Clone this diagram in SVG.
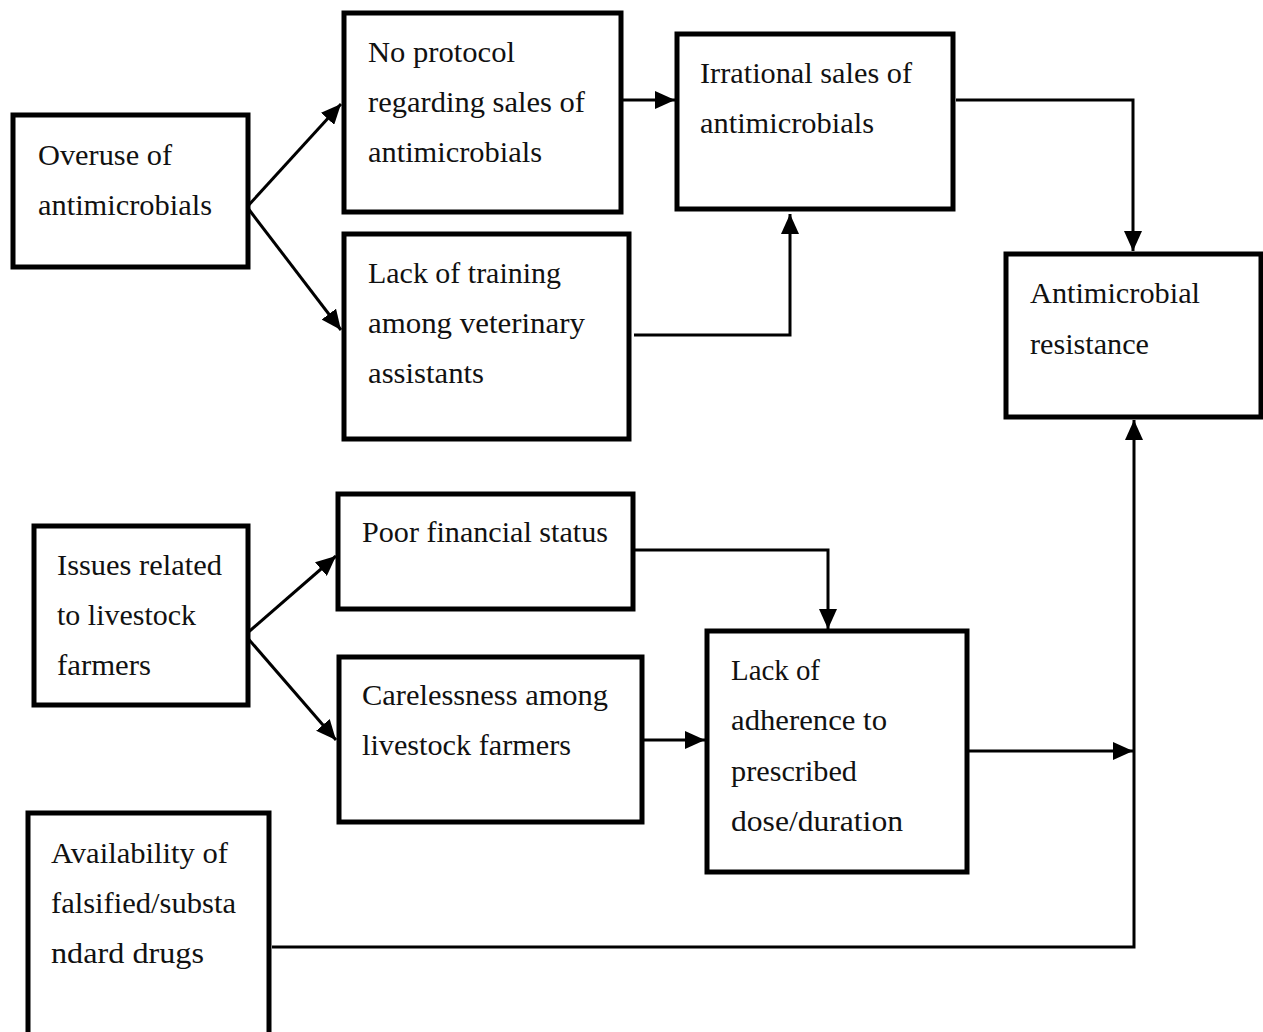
<svg xmlns="http://www.w3.org/2000/svg" width="1263" height="1032" viewBox="0 0 1263 1032">
<style>
.box{fill:#fff;stroke:#000;stroke-width:5}
.t{font-family:"Liberation Serif","Times New Roman",serif;font-size:29px;fill:#111}
.c{fill:none;stroke:#000;stroke-width:3}
</style>
<defs>
<marker id="ah" markerUnits="userSpaceOnUse" markerWidth="22" markerHeight="18" refX="20" refY="9" orient="auto">
<path d="M0,0 L20,9 L0,18 Z" fill="#000"/>
</marker>
</defs>
<rect width="1263" height="1032" fill="#fff"/>
<g id="connectors">
<path class="c" d="M247,207 L341,104" marker-end="url(#ah)"/>
<path class="c" d="M247,207 L341,330" marker-end="url(#ah)"/>
<path class="c" d="M622,100 L675,100" marker-end="url(#ah)"/>
<path class="c" d="M634,335 L790,335 L790,214" marker-end="url(#ah)"/>
<path class="c" d="M956,100 L1133,100 L1133,251" marker-end="url(#ah)"/>
<path class="c" d="M245,635 L336,556" marker-end="url(#ah)"/>
<path class="c" d="M245,635 L336,740" marker-end="url(#ah)"/>
<path class="c" d="M634,550 L828,550 L828,629" marker-end="url(#ah)"/>
<path class="c" d="M643,740 L705,740" marker-end="url(#ah)"/>
<path class="c" d="M968,751 L1133,751" marker-end="url(#ah)"/>
<path class="c" d="M272,947 L1134,947 L1134,420" marker-end="url(#ah)"/>
</g>
<g id="overuse">
<rect class="box" x="13" y="115" width="235" height="152"/>
<text class="t" x="38" y="165" textLength="134" lengthAdjust="spacingAndGlyphs">Overuse of</text>
<text class="t" x="38" y="215" textLength="174" lengthAdjust="spacingAndGlyphs">antimicrobials</text>
</g>
<g id="noprotocol">
<rect class="box" x="344" y="13" width="277" height="199"/>
<text class="t" x="368" y="62" textLength="147" lengthAdjust="spacingAndGlyphs">No protocol</text>
<text class="t" x="368" y="112" textLength="217" lengthAdjust="spacingAndGlyphs">regarding sales of</text>
<text class="t" x="368" y="162" textLength="174" lengthAdjust="spacingAndGlyphs">antimicrobials</text>
</g>
<g id="irrational">
<rect class="box" x="677" y="34" width="276" height="175"/>
<text class="t" x="700" y="83" textLength="212" lengthAdjust="spacingAndGlyphs">Irrational sales of</text>
<text class="t" x="700" y="133" textLength="174" lengthAdjust="spacingAndGlyphs">antimicrobials</text>
</g>
<g id="training">
<rect class="box" x="344" y="234" width="285" height="205"/>
<text class="t" x="368" y="283" textLength="193" lengthAdjust="spacingAndGlyphs">Lack of training</text>
<text class="t" x="368" y="333" textLength="217" lengthAdjust="spacingAndGlyphs">among veterinary</text>
<text class="t" x="368" y="383" textLength="116" lengthAdjust="spacingAndGlyphs">assistants</text>
</g>
<g id="amr">
<rect class="box" x="1006" y="254" width="255" height="163"/>
<text class="t" x="1030" y="303" textLength="170" lengthAdjust="spacingAndGlyphs">Antimicrobial</text>
<text class="t" x="1030" y="354" textLength="119" lengthAdjust="spacingAndGlyphs">resistance</text>
</g>
<g id="issues">
<rect class="box" x="34" y="526" width="214" height="179"/>
<text class="t" x="57" y="575" textLength="165" lengthAdjust="spacingAndGlyphs">Issues related</text>
<text class="t" x="57" y="625" textLength="139" lengthAdjust="spacingAndGlyphs">to livestock</text>
<text class="t" x="57" y="675" textLength="94" lengthAdjust="spacingAndGlyphs">farmers</text>
</g>
<g id="financial">
<rect class="box" x="338" y="494" width="295" height="115"/>
<text class="t" x="362" y="542" textLength="246" lengthAdjust="spacingAndGlyphs">Poor financial status</text>
</g>
<g id="careless">
<rect class="box" x="339" y="657" width="303" height="165"/>
<text class="t" x="362" y="705" textLength="246" lengthAdjust="spacingAndGlyphs">Carelessness among</text>
<text class="t" x="362" y="755" textLength="209" lengthAdjust="spacingAndGlyphs">livestock farmers</text>
</g>
<g id="adherence">
<rect class="box" x="707" y="631" width="260" height="241"/>
<text class="t" x="731" y="680" textLength="89" lengthAdjust="spacingAndGlyphs">Lack of</text>
<text class="t" x="731" y="730" textLength="156" lengthAdjust="spacingAndGlyphs">adherence to</text>
<text class="t" x="731" y="781" textLength="126" lengthAdjust="spacingAndGlyphs">prescribed</text>
<text class="t" x="731" y="831" textLength="172" lengthAdjust="spacingAndGlyphs">dose/duration</text>
</g>
<g id="availability">
<rect class="box" x="28" y="813" width="241" height="225"/>
<text class="t" x="51" y="863" textLength="177" lengthAdjust="spacingAndGlyphs">Availability of</text>
<text class="t" x="51" y="913" textLength="185" lengthAdjust="spacingAndGlyphs">falsified/substa</text>
<text class="t" x="51" y="963" textLength="153" lengthAdjust="spacingAndGlyphs">ndard drugs</text>
</g>
</svg>
